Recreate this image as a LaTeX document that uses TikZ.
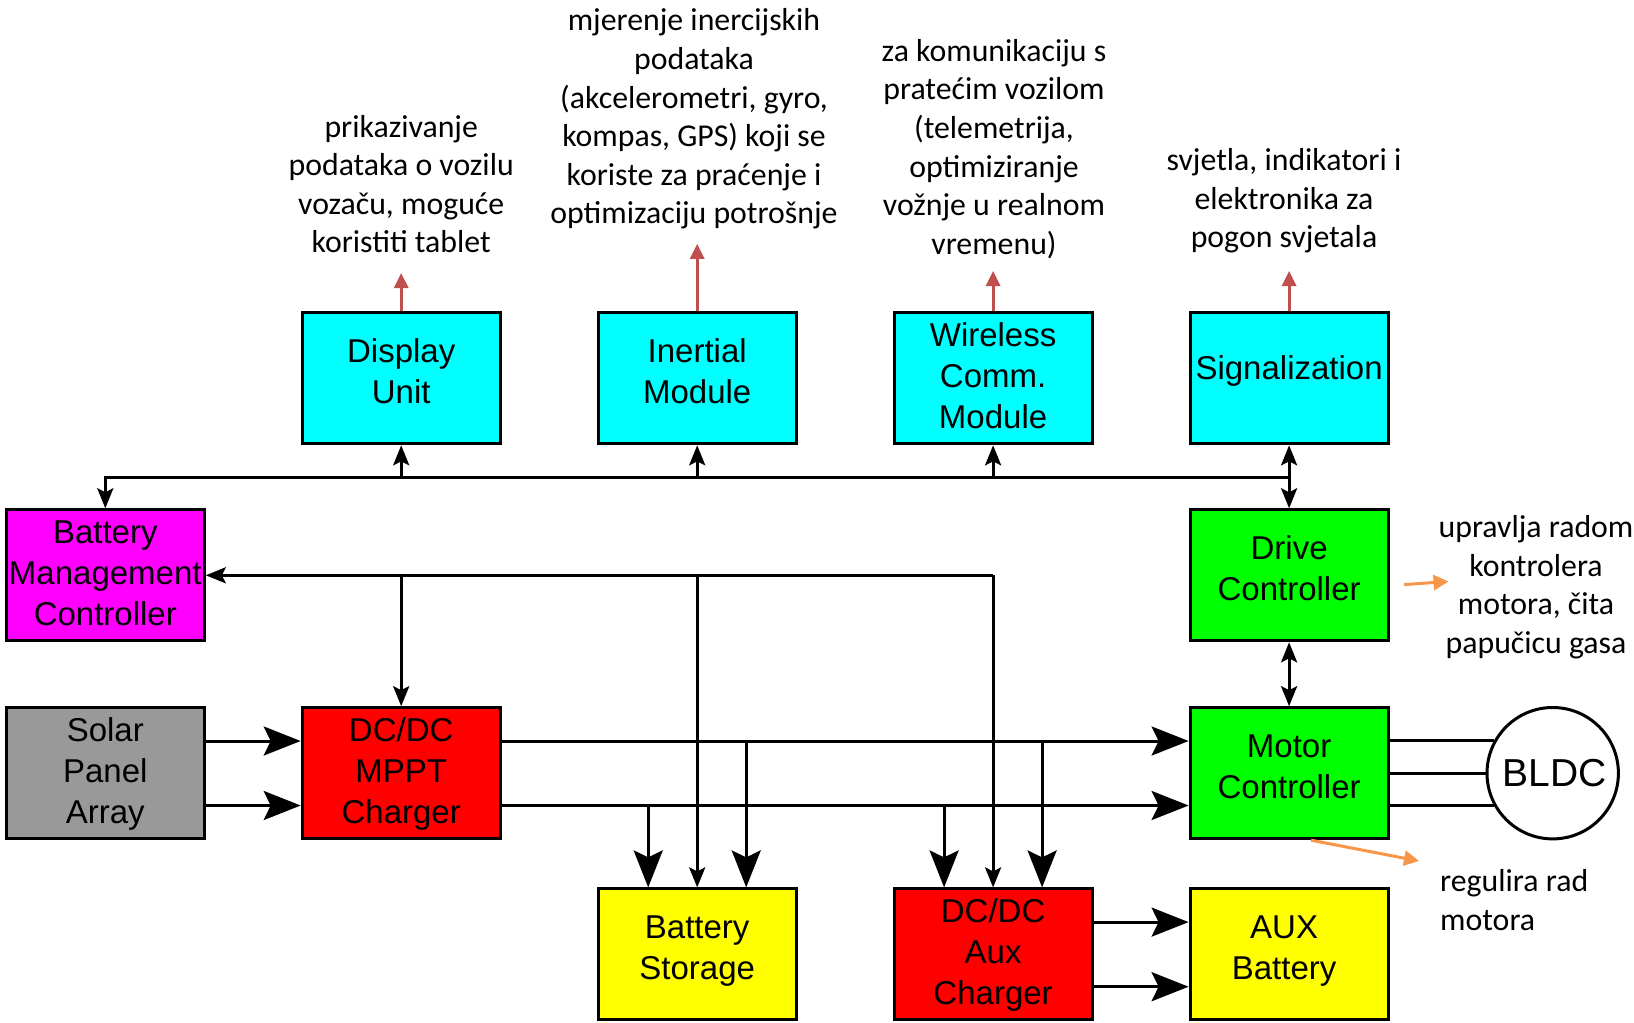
\documentclass[tikz,border=0pt]{standalone}
\usepackage{fontspec}
\setmainfont{Carlito}
\newfontfamily\arialf{Liberation Sans}
\usetikzlibrary{arrows.meta}
\definecolor{redarr}{HTML}{C0504D}
\definecolor{orangearr}{HTML}{F79646}
\definecolor{grayfill}{HTML}{999999}
\definecolor{cyanfill}{HTML}{00FFFF}
\definecolor{magfill}{HTML}{FF00FF}
\definecolor{greenfill}{HTML}{00FF00}
\definecolor{redfill}{HTML}{FF0000}
\definecolor{yelfill}{HTML}{FFFF00}
\newcommand\boxtext[2]{\raisebox{#1}[\height][\depth]{\begin{tabular}{@{}c@{}}#2\end{tabular}}}
\tikzset{
 blk/.style={draw=black, line width=3pt, minimum width=198pt, minimum height=131pt, inner sep=0pt, font=\arialf\fontsize{33}{41.2}\selectfont},
 note/.style={align=center, font=\fontsize{31.8}{38.6}\selectfont, inner sep=0pt},
 sigln/.style={line width=3pt, -{Stealth[length=20pt,width=16pt,inset=4pt]}},
 dbl/.style={line width=3pt, {Stealth[length=20pt,width=16pt,inset=4pt]}-{Stealth[length=20pt,width=16pt,inset=4pt]}},
 pw/.style={line width=3pt, -{Stealth[length=37pt,width=29pt,inset=7pt]}},
 plain/.style={line width=3pt},
 ann/.style={line width=3pt, draw=redarr, -{Triangle[length=15pt,width=14pt]}},
 oann/.style={line width=3pt, draw=orangearr, -{Triangle[length=15pt,width=15pt]}},
}
\begin{document}
\begin{tikzpicture}[x=1pt,y=-1pt]
\useasboundingbox (0,0) rectangle (1634,1023);
% boxes
\node[blk, fill=cyanfill] (disp) at (401.2,378.3) {\boxtext{3.7pt}{Display\\Unit}};
\node[blk, fill=cyanfill] (inert) at (697.2,378.3) {\boxtext{3.7pt}{Inertial\\Module}};
\node[blk, fill=cyanfill] (wrl) at (993.1,378.3) {\boxtext{-0.8pt}{Wireless\\Comm.\\Module}};
\node[blk, fill=cyanfill] (sig) at (1289.1,378.3) {\boxtext{7.3pt}{Signalization}};
\node[blk, fill=magfill] (bmc) at (105.3,575.3) {\boxtext{-1.2pt}{Battery\\Management\\Controller}};
\node[blk, fill=greenfill] (drive) at (1289.1,575.3) {\boxtext{3.7pt}{Drive\\Controller}};
\node[blk, fill=grayfill] (solar) at (105.3,773.2) {\boxtext{-0.8pt}{Solar\\Panel\\Array}};
\node[blk, fill=redfill] (mppt) at (401.2,773.2) {\boxtext{-0.8pt}{DC/DC\\MPPT\\Charger}};
\node[blk, fill=greenfill] (motor) at (1289.1,773.2) {\boxtext{3.7pt}{Motor\\Controller}};
\node[blk, fill=yelfill] (bat) at (697.2,954.4) {\boxtext{3.7pt}{Battery\\Storage}};
\node[blk, fill=redfill] (auxc) at (993.1,954.4) {\boxtext{-0.8pt}{DC/DC\\Aux\\Charger}};
\node[blk, fill=yelfill] (auxb) at (1289.1,954.4) {\boxtext{3.7pt}{\hspace*{-10pt}AUX\\\hspace*{-10pt}Battery}};
\node[draw, circle, line width=3pt, minimum size=131.4pt, inner sep=0pt, fill=white, font=\arialf\fontsize{39}{45}\selectfont] (bldc) at (1552.7,773.2) {\hspace*{4pt}BLDC};
% signal bus
\coordinate (busR) at (1289.1,477.3);
\coordinate (busL) at (105.3,477.3);
\draw[sigln] (busR) -- (busL) -- (bmc.north);
\draw[sigln] (disp.south |- busL) -- (disp.south);
\draw[sigln] (inert.south |- busL) -- (inert.south);
\draw[sigln] (wrl.south |- busL) -- (wrl.south);
\draw[dbl] (sig.south) -- (drive.north);
\draw[dbl] (drive.south) -- (motor.north);
% BMC lines
\coordinate (bmcR) at (993.1,575.3);
\draw[sigln] (bmcR) -- (bmc.east);
\draw[sigln] (mppt.north |- bmcR) -- (mppt.north);
\draw[sigln] (bat.north |- bmcR) -- (bat.north);
\draw[sigln] (bmcR) -- (auxc.north);
% power lines
\coordinate (tl) at (0,741);
\coordinate (bl) at (0,805.5);
\draw[pw] (solar.east |- tl) -- (mppt.west |- tl);
\draw[pw] (solar.east |- bl) -- (mppt.west |- bl);
\draw[pw] (mppt.east |- tl) -- (motor.west |- tl);
\draw[pw] (mppt.east |- bl) -- (motor.west |- bl);
\coordinate (batL) at ([xshift=-49pt]bat.north);
\coordinate (batR) at ([xshift=49pt]bat.north);
\coordinate (auxL) at ([xshift=-49pt]auxc.north);
\coordinate (auxR) at ([xshift=49pt]auxc.north);
\draw[pw] (batL |- bl) -- (batL);
\draw[pw] (batR |- tl) -- (batR);
\draw[pw] (auxL |- bl) -- (auxL);
\draw[pw] (auxR |- tl) -- (auxR);
\draw[pw] ([yshift=32.3pt]auxc.east) -- ([yshift=32.3pt]auxb.west);
\draw[pw] ([yshift=-32.3pt]auxc.east) -- ([yshift=-32.3pt]auxb.west);
% motor to BLDC
\draw[plain] (motor.east |- bldc.151) -- (bldc.151);
\draw[plain] (motor.east) -- (bldc.west);
\draw[plain] (motor.east |- bldc.209) -- (bldc.209);
% annotations
\node[note] (tdisp) at (401.2,184) {prikazivanje\\podataka o vozilu\\vozaču, moguće\\koristiti tablet};
\coordinate (adisp) at (401.2,273);
\draw[ann] (disp.north) -- (adisp);
\node[note] (tinert) at (694,119) {mjerenje inercijskih\\podataka\\(akcelerometri, gyro,\\kompas, GPS) koji se\\koriste za praćenje i\\optimizaciju potrošnje};
\coordinate (ainert) at (697.2,243.8);
\draw[ann] (inert.north) -- (ainert);
\node[note] (twrl) at (994,149) {za komunikaciju s\\pratećim vozilom\\(telemetrija,\\optimiziranje\\vožnje u realnom\\vremenu)};
\coordinate (awrl) at (993.1,271);
\draw[ann] (wrl.north) -- (awrl);
\node[note] (tsig) at (1284,201) {svjetla, indikatori i\\elektronika za\\pogon svjetala};
\coordinate (asig) at (1289.1,271);
\draw[ann] (sig.north) -- (asig);
\node[note] (tdrv) at (1536,587) {upravlja radom\\kontrolera\\motora, čita\\papučicu gasa};
\coordinate (odrv) at (1448.5,581.5);
\draw[oann] ([xshift=14.6pt,yshift=-9.3pt]drive.east) -- (odrv);
\node[note, align=left, anchor=west] (treg) at (1440,900) {regulira rad\\motora};
\coordinate (oreg) at (1419,861);
\draw[oann] ([xshift=22pt]motor.south) -- (oreg);
\end{tikzpicture}
\end{document}
